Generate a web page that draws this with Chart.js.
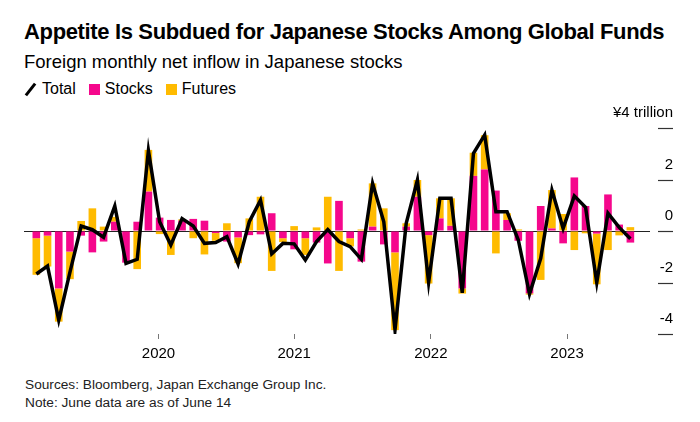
<!DOCTYPE html>
<html lang="en">
<head>
   <meta charset="UTF-8" />
   <title>Appetite Is Subdued for Japanese Stocks Among Global Funds</title>
   <style>
      body {
         margin: 0;
         padding: 0;
         background-color: #ffffff;
         font-family: "Liberation Sans", Arial, sans-serif;
         color: #000000;
      }
      .wrap {
         position: relative;
         width: 700px;
         height: 422px;
         overflow: hidden;
      }
      h1 {
         position: absolute;
         left: 24px;
         top: 19px;
         margin: 0;
         font-size: 22px;
         font-weight: bold;
         letter-spacing: -0.35px;
         white-space: nowrap;
      }
      .sub {
         position: absolute;
         left: 24px;
         top: 51px;
         font-size: 18.5px;
         white-space: nowrap;
      }
      .legend {
         position: absolute;
         left: 24px;
         top: 80px;
         height: 18px;
         font-size: 16px;
         display: flex;
         align-items: center;
         white-space: nowrap;
      }
      .slash {
         display: inline-block;
         width: 3px;
         height: 15px;
         background-color: #000;
         transform: rotate(38deg);
         margin: 0 10px 0 5px;
      }
      .box {
         display: inline-block;
         width: 11px;
         height: 11px;
         margin: 0 5px 0 13px;
      }
      canvas {
         position: absolute;
         left: 0;
         top: 100px;
      }
      .foot {
         position: absolute;
         left: 25px;
         top: 376px;
         font-size: 13.7px;
         line-height: 18px;
         color: #222;
      }
   </style>
   <script src="https://cdn.jsdelivr.net/npm/chart.js@4/dist/chart.umd.min.js"></script>
</head>
<body>
   <div class="wrap">
      <h1>Appetite Is Subdued for Japanese Stocks Among Global Funds</h1>
      <div class="sub">Foreign monthly net inflow in Japanese stocks</div>
      <div class="legend">
         <span class="slash"></span><span>Total</span>
         <span class="box" style="background:#f5078c"></span><span>Stocks</span>
         <span class="box" style="background:#ffbb00"></span><span>Futures</span>
      </div>
      <canvas id="chart" width="700" height="272"></canvas>
      <div class="foot">
         Sources: Bloomberg, Japan Exchange Group Inc.<br />
         Note: June data are as of June 14
      </div>
   </div>

   <script>
      // monthly data, Jan 2019 .. Jun 2023, in trillion yen
      const months = [
         '2019-01', '2019-02', '2019-03', '2019-04', '2019-05', '2019-06', '2019-07', '2019-08', '2019-09', '2019-10', '2019-11', '2019-12',
         '2020-01', '2020-02', '2020-03', '2020-04', '2020-05', '2020-06', '2020-07', '2020-08', '2020-09', '2020-10', '2020-11', '2020-12',
         '2021-01', '2021-02', '2021-03', '2021-04', '2021-05', '2021-06', '2021-07', '2021-08', '2021-09', '2021-10', '2021-11', '2021-12',
         '2022-01', '2022-02', '2022-03', '2022-04', '2022-05', '2022-06', '2022-07', '2022-08', '2022-09', '2022-10', '2022-11', '2022-12',
         '2023-01', '2023-02', '2023-03', '2023-04', '2023-05', '2023-06'
      ];
      const stocks = [
         -0.28, -0.18, -2.23, -0.80, -0.18, -0.83, -0.41, 0.36, -1.23, 0.36, 1.53, 0.52,
         0.43, 0.40, 0.47, 0.40, -0.08, -0.41, -0.25, -0.16, -0.13, 0.69, -0.28, -0.71,
         -0.28, -0.45, -1.26, 1.17, -0.28, -1.19, 0.17, -0.52, -0.83, 0.17, 1.33, -0.16,
         0.49, 0.20, -2.23, 2.14, 2.39, 1.57, 0.43, -0.38, -2.42, 0.97, 0.10, -0.48,
         2.08, 0.97, -0.10, 1.42, 0.25, -0.45
      ];
      const futures = [
         -1.42, -1.20, -1.29, -1.07, 0.39, 0.88, 0.17, 0.19, 0, -1.48, 1.62, -0.12,
         -0.93, 0.05, -0.28, -0.91, -0.30, 0.30, -1.00, 0.49, 1.33, -1.55, -0.15, 0.19,
         -0.65, 0.14, 1.33, -1.55, -0.32, 0.06, 1.68, 0.88, -3.02, 0.13, 0.65, -1.88,
         0.78, 1.07, -0.20, 0.90, 1.33, -0.87, 0.26, 0.06, -0.05, -1.90, 1.49, 0.66,
         -0.74, -0.09, -1.97, -0.74, -0.17, 0.15
      ];
      const total = [
         -1.67, -1.36, -3.46, -1.60, 0.19, 0.05, -0.24, 0.97, -1.26, -1.10, 3.12, 0.36,
         -0.54, 0.48, 0.19, -0.48, -0.45, -0.22, -1.28, 0.36, 1.20, -0.89, -0.48, -0.50,
         -1.13, -0.41, 0.06, -0.41, -0.61, -1.10, 1.85, 0.36, -3.84, 0.30, 1.98, -2.00,
         1.27, 1.27, -2.40, 3.02, 3.73, 0.75, 0.75, -0.35, -2.45, -1.06, 1.59, 0.10,
         1.36, 0.92, -2.00, 0.69, 0.14, -0.30
      ];
      const yearTickPos = [10.9, 23.0, 35.2, 47.35];
      const yearLabels = ['2020', '2021', '2022', '2023'];
      const yTicks = [4, 2, 0, -2, -4];
      const yTickLabels = ['¥4 trillion', '2', '0', '-2', '-4'];

      const toPoints = arr => arr.map((v, i) => ({ x: i, y: v }));

      // labels and dashes of the right-hand value axis
      const rightAxis = {
         id: 'rightAxis',
         afterDraw(chart) {
            const ctx = chart.ctx;
            const y = chart.scales.y;
            const right = chart.chartArea.right;
            ctx.save();
            ctx.font = '15px "Liberation Sans", Arial, sans-serif';
            ctx.fillStyle = '#000';
            ctx.strokeStyle = '#333';
            ctx.lineWidth = 1.2;
            ctx.textAlign = 'right';
            ctx.textBaseline = 'middle';
            yTicks.forEach((v, i) => {
               const py = Math.round(y.getPixelForValue(v)) + 0.5;
               ctx.beginPath();
               ctx.moveTo(right + 8, py);
               ctx.lineTo(right + 23, py);
               ctx.stroke();
               ctx.fillText(yTickLabels[i], right + 23, py - 16);
            });
            ctx.restore();
         }
      };

      const ctx = document.getElementById('chart').getContext('2d');
      new Chart(ctx, {
         type: 'bar',
         data: {
            datasets: [
               {
                  type: 'line',
                  label: 'Total',
                  data: toPoints(total),
                  borderColor: '#000000',
                  borderWidth: 3.5,
                  pointRadius: 0,
                  pointHoverRadius: 0,
                  tension: 0,
                  stack: 'line',
                  order: 0
               },
               {
                  label: 'Stocks',
                  data: toPoints(stocks),
                  backgroundColor: '#f5078c',
                  stack: 'bars',
                  order: 1
               },
               {
                  label: 'Futures',
                  data: toPoints(futures),
                  backgroundColor: '#ffbb00',
                  stack: 'bars',
                  order: 2
               }
            ]
         },
         options: {
            responsive: false,
            animation: false,
            devicePixelRatio: 1,
            categoryPercentage: 1,
            barPercentage: 0.68,
            layout: {
               padding: { left: 24, right: 50, top: 28, bottom: 0 }
            },
            plugins: {
               legend: { display: false },
               tooltip: { enabled: false }
            },
            scales: {
               x: {
                  type: 'linear',
                  stacked: true,
                  offset: false,
                  min: -1.1,
                  max: 54.75,
                  border: { display: false },
                  grid: {
                     offset: false,
                     drawOnChartArea: false,
                     drawTicks: true,
                     tickLength: 5,
                     tickColor: '#777',
                     tickWidth: 1
                  },
                  afterBuildTicks: scale => {
                     scale.ticks = yearTickPos.map(v => ({ value: v }));
                  },
                  afterFit: scale => {
                     scale.height = 38;
                  },
                  ticks: {
                     autoSkip: false,
                     maxRotation: 0,
                     padding: 6,
                     color: '#000',
                     font: { family: '"Liberation Sans", Arial, sans-serif', size: 15 },
                     callback: (value, index) => yearLabels[index]
                  }
               },
               y: {
                  position: 'right',
                  stacked: true,
                  min: -4,
                  max: 4,
                  border: { display: false },
                  grid: {
                     drawTicks: false,
                     color: c => (c.tick && c.tick.value === 0 ? '#222' : 'rgba(0,0,0,0)'),
                     lineWidth: 1
                  },
                  afterBuildTicks: scale => {
                     scale.ticks = yTicks.map(v => ({ value: v }));
                  },
                  afterFit: scale => {
                     scale.width = 0;
                  },
                  ticks: { display: false }
               }
            }
         },
         plugins: [rightAxis]
      });
   </script>
</body>
</html>
